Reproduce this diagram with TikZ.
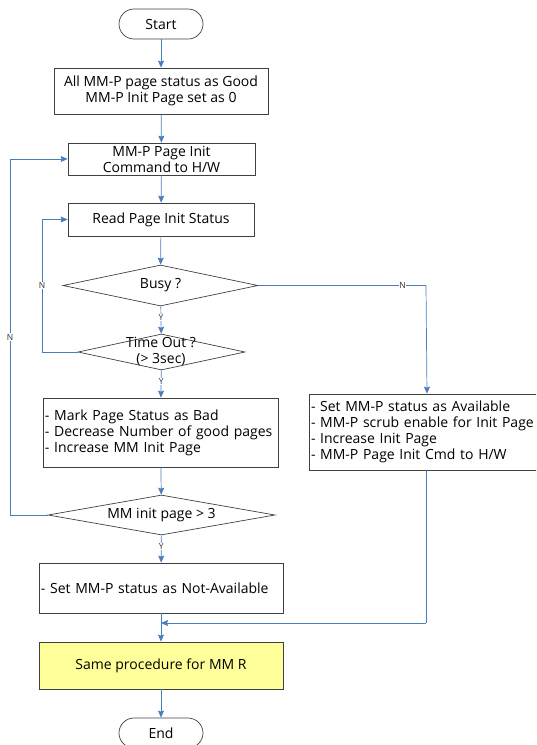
\documentclass[tikz,border=0pt]{standalone}
\usepackage{fontspec}
\setmainfont{Open Sans}
\usetikzlibrary{shapes.geometric,arrows.meta}
\definecolor{flowblue}{RGB}{74,126,187}
\definecolor{boxgray}{RGB}{64,64,64}
\definecolor{notefill}{RGB}{255,255,153}
\tikzset{
  boxfont/.style={font=\fontsize{14}{16}\selectfont},
  terminal/.style={draw=boxgray, line width=0.7pt, rounded corners=15pt, minimum width=84pt, minimum height=30pt, inner sep=0pt, boxfont},
  procbox/.style={draw=boxgray, line width=0.7pt, fill=white, inner sep=0pt, align=center, boxfont},
  listbox/.style={procbox, align=left, inner xsep=2pt},
  decision/.style={diamond, draw=boxgray, line width=0.7pt, aspect=5, inner sep=0pt, boxfont},
  flow/.style={flowblue, line width=0.7pt, -{Stealth[length=7pt,width=6pt,inset=1pt]}},
  link/.style={flowblue, line width=0.7pt},
  yn/.style={fill=white, inner sep=0.5pt, font=\fontsize{8.5}{8.5}\selectfont, text=black!80}
}
\begin{document}
\begin{tikzpicture}[x=1pt,y=-1pt]
    \useasboundingbox (0,0) rectangle (536,745);
    \clip (0,0) rectangle (536,745);

    % Main column
    \node[terminal] (start) at (161,24) {Start};
    \node[procbox, minimum width=214pt, minimum height=46pt] (init) at (161,91)
        {All MM-P page status as Good\\MM-P Init Page set as 0};
    \node[procbox, minimum width=187pt, minimum height=32pt] (cmd) at (161.5,159)
        {MM-P Page Init\\Command to H/W};
    \node[procbox, minimum width=186pt, minimum height=33pt] (read) at (161,219.5)
        {Read Page Init Status};
    \node[decision, minimum width=195pt, minimum height=41pt] (busy) at (160.5,285.5) {Busy ?};
    \node[decision, minimum width=167pt, minimum height=36pt] (timeout) at (161.5,352) {};
    \node[boxfont, align=center, inner sep=0pt] (timeouttxt) at (161,351) {Time Out ?\\(> 3sec)};
    \node[listbox, minimum width=235pt, text width=231pt, minimum height=69pt] (bad) at (160.5,432.5)
        {- Mark Page Status as Bad\\- Decrease Number of good pages\\- Increase MM Init Page};
    \node[decision, minimum width=227pt, minimum height=40pt] (mminit) at (161.5,515) {MM init page > 3};
    \node[listbox, minimum width=244pt, text width=240pt, minimum height=50pt] (notavail) at (161,588)
        {- Set MM-P status as Not-Available};
    \node[procbox, fill=notefill, minimum width=244pt, minimum height=47pt] (same) at (161,665.5)
        {Same procedure for MM R};
    \node[terminal] (end) at (161,733) {End};

    % Right branch
    \node[listbox, minimum width=236pt, text width=232pt, minimum height=76pt] (avail) at (427,432)
        {- Set MM-P status as Available\\- MM-P scrub enable for Init Page\\- Increase Init Page\\- MM-P Page Init Cmd to H/W};
    \coordinate (busycorner) at (426,285.5);
    \coordinate (merge) at (161,623);
    \coordinate (availcorner) at (426,623);

    % Straight arrows
    \draw[flow] (start) -- (init);
    \draw[flow] (init) -- (cmd);
    \draw[flow] (cmd) -- (read);
    \draw[flow] (read) -- (busy);
    \draw[flow] (busy) -- node[yn, pos=0.4] {Y} (timeout);
    \draw[flow] (timeout) -- node[yn, pos=0.4] {Y} (bad);
    \draw[flow] (bad) -- (mminit);
    \draw[flow] (mminit) -- node[yn, pos=0.4] {Y} (notavail);
    \draw[flow] (notavail) -- (same);
    \draw[flow] (same) -- (end);

    % Loops back
    \draw[flow] (timeout.west) -- (42,352) -- node[yn] {N} (42,219.5) -- (read.west);
    \draw[flow] (mminit.west) -- (10,515) -- node[yn] {N} (10,159) -- (cmd.west);

    % Not busy
    \draw[flow] (busy.east) -- node[yn, pos=0.86] {N} (busycorner) -- (avail.north);
    \draw[link] (avail.south -| availcorner) -- (availcorner);
    \draw[flow] (availcorner) -- (merge);
\end{tikzpicture}
\end{document}
